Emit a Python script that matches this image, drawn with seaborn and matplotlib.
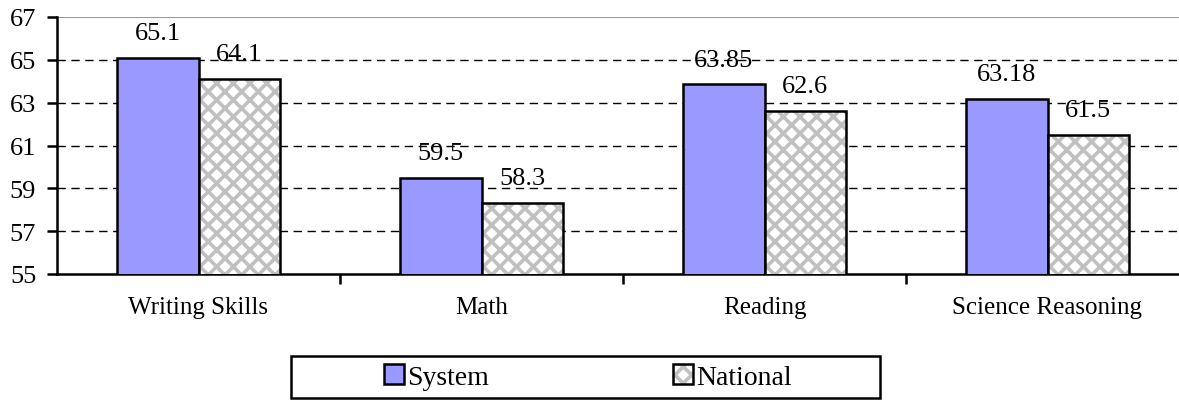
import pandas as pd
import matplotlib
matplotlib.use("Agg")
import matplotlib.pyplot as plt
import matplotlib.colors as mcolors
from matplotlib.patches import Patch, Rectangle
import seaborn as sns

# -------------------------
# Data
# -------------------------
subjects = ["Writing Skills", "Math", "Reading", "Science Reasoning"]
system_scores = [65.1, 59.5, 63.85, 63.18]
national_scores = [64.1, 58.3, 62.6, 61.5]
y_ticks = [55, 57, 59, 61, 63, 65, 67]

df = pd.DataFrame({
    "subject": subjects * 2,
    "score": system_scores + national_scores,
    "group": ["System"] * len(subjects) + ["National"] * len(subjects),
})

# -------------------------
# Style
# -------------------------
sns.set_style("white")
plt.rcParams["font.family"] = ["Liberation Serif", "DejaVu Serif"]
plt.rcParams["hatch.linewidth"] = 2.6
plt.rcParams["text.color"] = "black"
plt.rcParams["xtick.color"] = "black"
plt.rcParams["ytick.color"] = "black"
plt.rcParams["axes.labelcolor"] = "black"

system_color = "#9999FF"
hatch_gray = "#C0C0C0"

fig = plt.figure(figsize=(11.79, 4.02), dpi=100)
ax = fig.add_axes([57 / 1179, 1 - 275 / 402, 1132 / 1179, 257 / 402])

sns.barplot(
    data=df, x="subject", y="score", hue="group",
    palette={"System": system_color, "National": "white"},
    saturation=1, width=0.574, gap=0, edgecolor="black", linewidth=1.8,
    legend=False, ax=ax, zorder=3,
)

# grey diamond hatch on the national bars
for p in ax.containers[1]:
    p.set_hatch("xx")
    p._hatch_color = mcolors.to_rgba(hatch_gray)

for cont in ax.containers:
    ax.bar_label(cont, fmt="%g", padding=10, fontsize=19, color="black")

ax.set_ylim(55, 67)
ax.set_xlim(-0.5, 3.5)
ax.set_yticks(y_ticks)
ax.set_xlabel("")
ax.set_ylabel("")

# grid
for v in y_ticks[1:-1]:
    ax.axhline(v, color="black", linestyle=(0, (6, 4)), linewidth=1, zorder=1)
ax.axhline(67, color="#999999", linewidth=1.5, zorder=1)

for s in ["top", "right"]:
    ax.spines[s].set_visible(False)
for s in ["left", "bottom"]:
    ax.spines[s].set_color("black")
    ax.spines[s].set_linewidth(1.8)

ax.tick_params(axis="y", which="major", direction="out", length=7, width=1.8,
               color="black", labelcolor="black", pad=8, labelsize=19, left=True)
ax.tick_params(axis="x", which="major", length=0, pad=16, labelsize=18,
               labelcolor="black")
ax.set_xticks([0.5, 1.5, 2.5], minor=True)
ax.tick_params(axis="x", which="minor", direction="out", length=7, width=1.8,
               color="black", bottom=True)

# -------------------------
# Legend
# -------------------------
h_sys = Patch(facecolor=system_color, edgecolor="black", linewidth=1.8, label="System")
h_nat = Patch(facecolor="white", edgecolor="black", linewidth=1.8, hatch="xx", label="National")
h_nat._hatch_color = mcolors.to_rgba(hatch_gray)
fig.legend(
    handles=[h_sys, h_nat], ncol=2, loc="center left",
    bbox_to_anchor=(384 / 1179, 1 - 378 / 402),
    borderpad=0, borderaxespad=0, fontsize=20, frameon=False,
    handlelength=0.72, handleheight=0.72, handletextpad=0.12, columnspacing=6.6,
    labelcolor="black",
)
fig.add_artist(Rectangle((291 / 1179, 1 - 399 / 402), 589 / 1179, 42 / 402,
                         transform=fig.transFigure, fill=False,
                         edgecolor="black", linewidth=1.8))

fig.savefig("out.png", dpi=100)
